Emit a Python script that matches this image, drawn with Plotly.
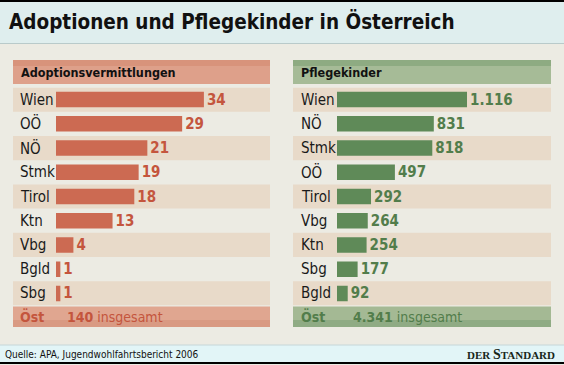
import plotly.graph_objects as go

# ---- data ----
title_text = "Adoptionen und Pflegekinder in Österreich"
adopt_header = "Adoptionsvermittlungen"
adopt_regions = ["Wien", "OÖ", "NÖ", "Stmk", "Tirol", "Ktn", "Vbg", "Bgld", "Sbg"]
adopt_values = [34, 29, 21, 19, 18, 13, 4, 1, 1]
adopt_total = 140

foster_header = "Pflegekinder"
foster_regions = ["Wien", "NÖ", "Stmk", "OÖ", "Tirol", "Vbg", "Ktn", "Sbg", "Bgld"]
foster_values = [1116, 831, 818, 497, 292, 264, 254, 177, 92]
foster_total = 4341

total_label = "Öst"
total_suffix = "insgesamt"
source_text = "Quelle: APA, Jugendwohlfahrtsbericht 2006"

W, H = 564, 365
FONT = "DejaVu Sans Condensed, Liberation Sans Narrow, Arial Narrow, sans-serif"


def px(x):
    return x / W


def py(y):
    return 1 - y / H


def de(n):
    return f"{n:,}".replace(",", ".")


BG = "#ecebe3"
BAND = "#e8dac9"
RED_BAR = "#cc6a52"
RED_TXT = "#c4553d"
GREEN_BAR = "#5f8a58"
GREEN_TXT = "#527d4b"

fig = go.Figure()

# row geometry (pixels)
row_top, row_bot = 87.5, 305.5
y_dom = [py(row_bot), py(row_top)]

fig.add_trace(go.Bar(
    x=adopt_values, y=adopt_regions, orientation="h",
    marker=dict(color=RED_BAR, line=dict(width=0)), width=0.64,
    text=[f"<b>{de(v)}</b>" for v in adopt_values], textposition="outside",
    constraintext="none",
    outsidetextfont=dict(family=FONT, size=15, color=RED_TXT),
    cliponaxis=False, xaxis="x", yaxis="y", hoverinfo="skip",
))
fig.add_trace(go.Bar(
    x=foster_values, y=foster_regions, orientation="h",
    marker=dict(color=GREEN_BAR, line=dict(width=0)), width=0.64,
    text=[f"<b>{de(v)}</b>" for v in foster_values], textposition="outside",
    constraintext="none",
    outsidetextfont=dict(family=FONT, size=15, color=GREEN_TXT),
    cliponaxis=False, xaxis="x2", yaxis="y2", hoverinfo="skip",
))

left_x0, left_x1 = 56, 270
right_x0, right_x1 = 337, 551
fig.update_layout(
    xaxis=dict(domain=[px(left_x0), px(left_x1)], range=[0, (left_x1 - left_x0) / 4.35],
               visible=False, fixedrange=True),
    yaxis=dict(domain=y_dom, autorange="reversed", visible=False, fixedrange=True,
               categoryorder="array", categoryarray=adopt_regions, anchor="x"),
    xaxis2=dict(domain=[px(right_x0), px(right_x1)], range=[0, (right_x1 - right_x0) / 0.1165],
                visible=False, fixedrange=True, anchor="y2"),
    yaxis2=dict(domain=y_dom, autorange="reversed", visible=False, fixedrange=True,
                categoryorder="array", categoryarray=foster_regions, anchor="x2"),
)

shapes = []
# title band
shapes.append(dict(type="rect", xref="paper", yref="paper", x0=0, x1=1, y0=py(43), y1=py(1),
                   fillcolor="#dfeeee", line=dict(width=0), layer="below"))
shapes.append(dict(type="line", xref="paper", yref="paper", x0=0, x1=1, y0=py(43.5), y1=py(43.5),
                   line=dict(color="#b9caca", width=1), layer="below"))
shapes.append(dict(type="line", xref="paper", yref="paper", x0=0, x1=1, y0=py(1), y1=py(1),
                   line=dict(color="#000000", width=2), layer="below"))
# footer band
shapes.append(dict(type="rect", xref="paper", yref="paper", x0=0, x1=1, y0=py(362), y1=py(345),
                   fillcolor="#e2f5f7", line=dict(width=0), layer="below"))
shapes.append(dict(type="line", xref="paper", yref="paper", x0=0, x1=1, y0=py(345), y1=py(345),
                   line=dict(color="#c6d6d8", width=1), layer="below"))
shapes.append(dict(type="line", xref="paper", yref="paper", x0=0, x1=1, y0=py(363), y1=py(363),
                   line=dict(color="#000000", width=2), layer="below"))

panels = [
    (13, 270, "y", adopt_regions, "#dea08a", "#d8937b", "#e0a690", "#d99a83"),
    (293, 551, "y2", foster_regions, "#a6bb97", "#8eab82", "#a4b994", "#8fab84"),
]
for (x0, x1, yr, regs, hdr, hdr_dark, tot, tot_dark) in panels:
    shapes.append(dict(type="rect", xref="paper", yref="paper", x0=px(x0), x1=px(x1),
                       y0=py(84), y1=py(60), fillcolor=hdr, line=dict(width=0), layer="below"))
    shapes.append(dict(type="rect", xref="paper", yref="paper", x0=px(x0), x1=px(x1),
                       y0=py(66), y1=py(60), fillcolor=hdr_dark, line=dict(width=0), layer="below"))
    for i in range(0, len(regs), 2):
        shapes.append(dict(type="rect", xref="paper", yref=yr, x0=px(x0), x1=px(x1),
                           y0=i - 0.5, y1=i + 0.5, fillcolor=BAND, line=dict(width=0),
                           layer="below"))
    shapes.append(dict(type="rect", xref="paper", yref="paper", x0=px(x0), x1=px(x1),
                       y0=py(327), y1=py(306.5), fillcolor=tot, line=dict(width=0), layer="below"))
    shapes.append(dict(type="rect", xref="paper", yref="paper", x0=px(x0), x1=px(x1),
                       y0=py(327), y1=py(320), fillcolor=tot_dark, line=dict(width=0), layer="below"))

annotations = []
annotations.append(dict(text=f"<b>{title_text}</b>", xref="paper", yref="paper", x=px(7), y=py(22),
                        xanchor="left", yanchor="middle", showarrow=False,
                        font=dict(family=FONT, size=20.5, color="#111111")))
annotations.append(dict(text=f"<b>{adopt_header}</b>", xref="paper", yref="paper", x=px(19), y=py(72.5),
                        xanchor="left", yanchor="middle", showarrow=False,
                        font=dict(family=FONT, size=12.5, color="#111111")))
annotations.append(dict(text=f"<b>{foster_header}</b>", xref="paper", yref="paper", x=px(299), y=py(72.5),
                        xanchor="left", yanchor="middle", showarrow=False,
                        font=dict(family=FONT, size=12.5, color="#111111")))
for regs, yr, lx in [(adopt_regions, "y", 18), (foster_regions, "y2", 299)]:
    for r in regs:
        annotations.append(dict(text=r, xref="paper", yref=yr, x=px(lx), y=r,
                                xanchor="left", yanchor="middle", showarrow=False,
                                font=dict(family=FONT, size=15, color="#1a1a1a")))
annotations.append(dict(text=f"<b>{total_label}</b>", xref="paper", yref="paper", x=px(18), y=py(316.5),
                        xanchor="left", yanchor="middle", showarrow=False,
                        font=dict(family=FONT, size=14, color=RED_TXT)))
annotations.append(dict(text=f"<b>{de(adopt_total)}</b> {total_suffix}", xref="paper", yref="paper",
                        x=px(65), y=py(316.5), xanchor="left", yanchor="middle", showarrow=False,
                        font=dict(family=FONT, size=14, color=RED_TXT)))
annotations.append(dict(text=f"<b>{total_label}</b>", xref="paper", yref="paper", x=px(299), y=py(316.5),
                        xanchor="left", yanchor="middle", showarrow=False,
                        font=dict(family=FONT, size=14, color=GREEN_TXT)))
annotations.append(dict(text=f"<b>{de(foster_total)}</b> {total_suffix}", xref="paper", yref="paper",
                        x=px(351), y=py(316.5), xanchor="left", yanchor="middle", showarrow=False,
                        font=dict(family=FONT, size=14, color=GREEN_TXT)))
annotations.append(dict(text=source_text, xref="paper", yref="paper", x=px(3), y=py(354),
                        xanchor="left", yanchor="middle", showarrow=False,
                        font=dict(family=FONT, size=10, color="#111111")))
annotations.append(dict(text="<b>DER <span style='font-size:14px'>S</span>TANDARD</b>",
                        xref="paper", yref="paper", x=px(557), y=py(354),
                        xanchor="right", yanchor="middle", showarrow=False,
                        font=dict(family="Liberation Serif, serif", size=11, color="#17261a")))

fig.update_layout(
    width=W, height=H, margin=dict(l=0, r=0, t=0, b=0),
    paper_bgcolor=BG, plot_bgcolor="rgba(0,0,0,0)",
    showlegend=False, shapes=shapes, annotations=annotations,
    bargap=0.36,
)

fig.write_html("out.html", config={"displayModeBar": False},
               post_script="document.body.style.margin='0';document.body.style.overflow='hidden';")
